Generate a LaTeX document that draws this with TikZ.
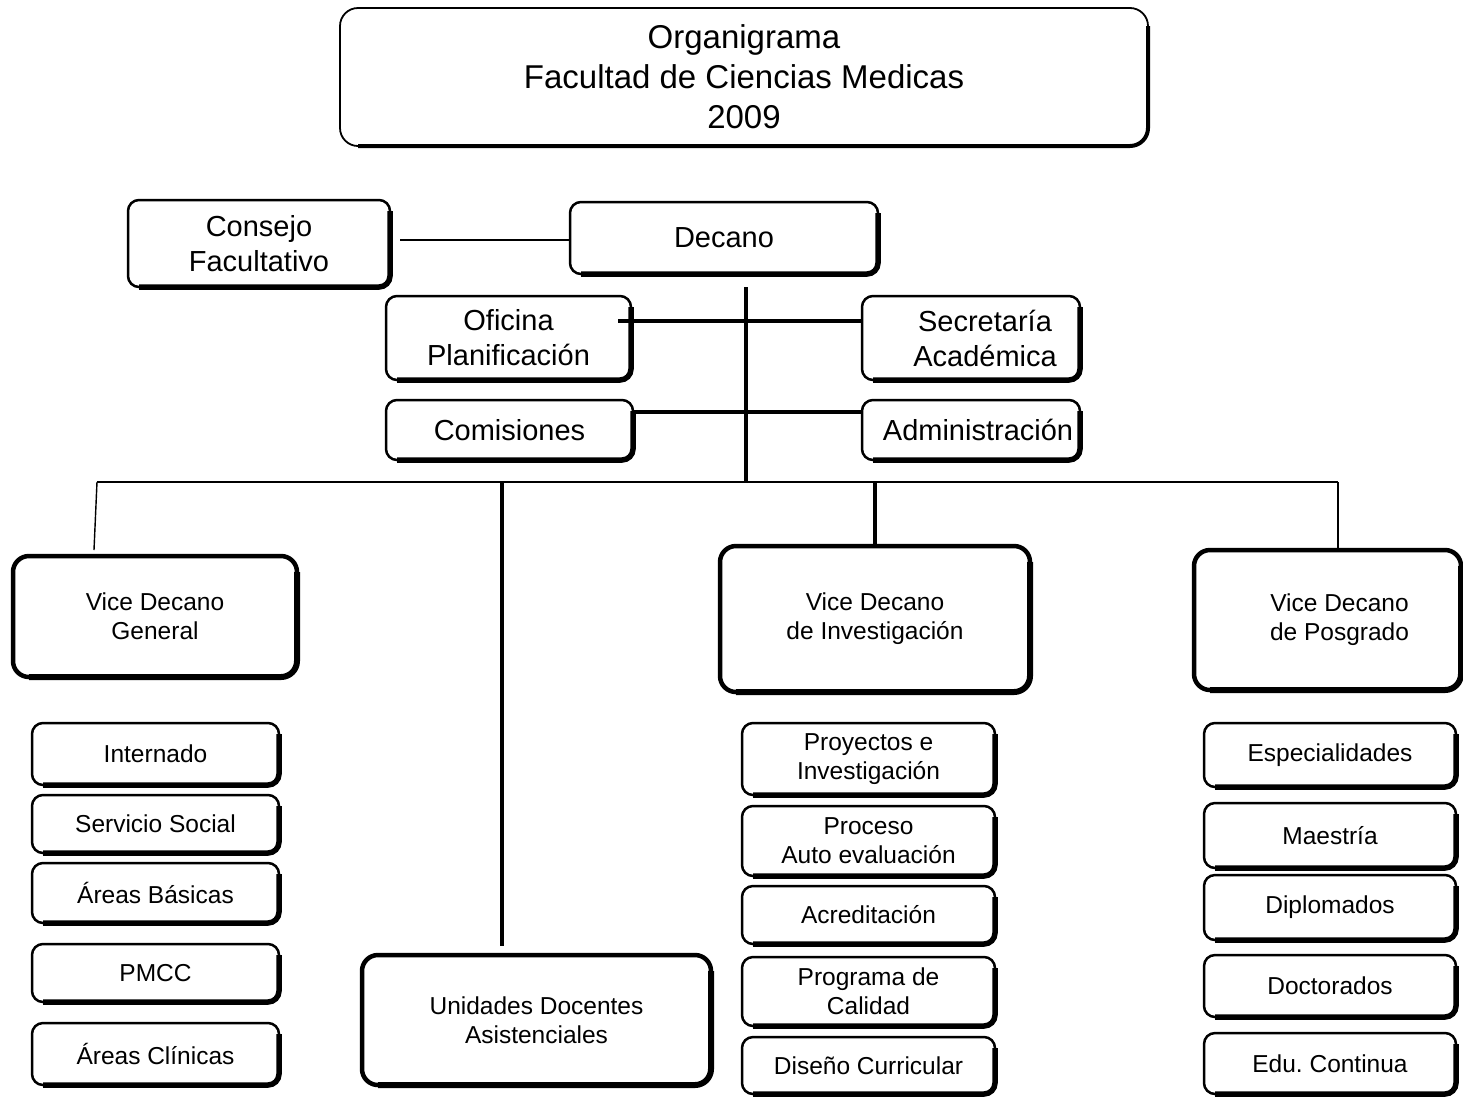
\documentclass[tikz,border=0pt]{standalone}
\usepackage{fontspec}
\setmainfont{Liberation Sans}
% left indent for a centred line, which pushes it to the right
\newcommand\ind[1]{\hspace*{#1}}
\begin{document}
\begin{tikzpicture}[x=1pt,y=-1pt,
  box/.style={draw, line width=2.5pt, rounded corners=11pt, inner sep=0pt, align=center},
  edge/.style={line width=5.5pt, rounded corners=11pt},
  vice/.style={line width=4.5pt, rounded corners=16pt},
  vedge/.style={line width=6pt, rounded corners=16pt},
  big/.style={font=\fontsize{33}{40}\selectfont},
  mid/.style={font=\fontsize{29}{35}\selectfont},
  small/.style={font=\fontsize{24.5}{29}\selectfont},
  thin link/.style={line width=1.4pt},
  thick link/.style={line width=3.2pt}]
\useasboundingbox (0,0) rectangle (1463,1096);

% \orgbox[style]{name}{x1}{y1}{x2}{y2}{text}: rounded box with a heavy lower-right edge
\newcommand\orgbox[7][small]{%
  \node[box,#1,minimum width={(#5-#3)*1pt},minimum height={(#6-#4)*1pt}]
    (#2) at ({(#3+#5)/2},{(#4+#6)/2}) {#7};
  \draw[edge] ({#5},{#4+11}) -- ({#5},{#6}) -- ({#3+11},{#6});
}
\newcommand\vicebox[6]{%
  \node[box,vice,small,minimum width={(#4-#2)*1pt},minimum height={(#5-#3)*1pt}]
    (#1) at ({(#2+#4)/2},{(#3+#5)/2}) {#6};
  \draw[vedge] ({#4},{#3+16}) -- ({#4},{#5}) -- ({#2+16},{#5});
}

% title
\node[box,big,line width=1.8pt,rounded corners=18pt,minimum width=808pt,minimum height=138pt]
  (title) at (744,77) {Organigrama\\Facultad de Ciencias Medicas\\2009};
\draw[line width=4pt,rounded corners=18pt] (1148,26) -- (1148,146) -- (358,146);

% top management
\orgbox[mid]{cf}{128}{200}{390}{287}{Consejo\\Facultativo}
\orgbox[mid]{dec}{570}{202}{878}{274}{Decano}
\orgbox[mid]{of}{386}{296}{631}{380}{Oficina\\Planificación}
\orgbox[mid]{sa}{862}{296}{1080}{380}{\ind{28pt}Secretaría\\\ind{28pt}Académica}
\orgbox[mid]{com}{386}{400}{633}{460}{Comisiones}
\orgbox[mid]{adm}{862}{400}{1080}{460}{\ind{14pt}Administración}

% vice deans
\vicebox{vg}{13}{556}{297}{677}{Vice Decano\\General}
\vicebox{vi}{720}{546}{1030}{692}{Vice Decano\\de Investigación}
\vicebox{vp}{1194}{550}{1461}{690}{\ind{24pt}Vice Decano\\\ind{24pt}de Posgrado}
\vicebox{uda}{362}{955}{711}{1085}{Unidades Docentes\\Asistenciales}

% units under the general vice dean
\orgbox{int}{32}{723}{279}{785}{Internado}
\orgbox{ss}{32}{795}{279}{853}{Servicio Social}
\orgbox{ab}{32}{863}{279}{923}{Áreas Básicas}
\orgbox{pm}{32}{944}{279}{1002}{PMCC}
\orgbox{ac}{32}{1023}{279}{1085}{Áreas Clínicas}

% units under research
\orgbox{pi}{742}{723}{995}{795}{Proyectos e\\Investigación}
\orgbox{pa}{742}{806}{995}{876}{Proceso\\Auto evaluación}
\orgbox{acr}{742}{886}{995}{944}{Acreditación}
\orgbox{pc}{742}{957}{995}{1026}{Programa de\\Calidad}
\orgbox{dc}{742}{1037}{995}{1094}{Diseño Curricular}

% units under postgraduate studies
\orgbox{esp}{1204}{723}{1456}{787}{Especialidades}
\orgbox{mae}{1204}{803}{1456}{868}{Maestría}
\orgbox{dip}{1204}{875}{1456}{940}{Diplomados}
\orgbox{doc}{1204}{955}{1456}{1017}{Doctorados}
\orgbox{edu}{1204}{1033}{1456}{1094}{Edu.\ Continua}

% connector end points
\coordinate (cfR) at (400,240);
\coordinate (ofR) at (618,321);
\coordinate (coR) at (633,412);
\coordinate (decB) at (746,287);
\coordinate (bus) at (746,482);
\coordinate (busL) at (97,482);
\coordinate (busR) at (1338,482);
\coordinate (vgT) at (94,550);
\coordinate (udaJ) at (502,482);
\coordinate (udaT) at (502,946);
\coordinate (viJ) at (875,482);
\coordinate (vpT) at (1338,550);

% connectors
\draw[thin link] (cfR) -- (cfR -| dec.west);
\draw[thick link] (ofR) -- (ofR -| sa.west);
\draw[thick link] (coR) -- (coR -| adm.west);
\draw[thick link] (decB) -- (bus);
\draw[thin link] (busL) -- (busR);
\draw[thin link] (busL) -- (vgT);
\draw[thick link] (udaJ) -- (udaT);
\draw[thick link] (viJ) -- (viJ |- vi.north);
\draw[thin link] (busR) -- (vpT);
\end{tikzpicture}
\end{document}
